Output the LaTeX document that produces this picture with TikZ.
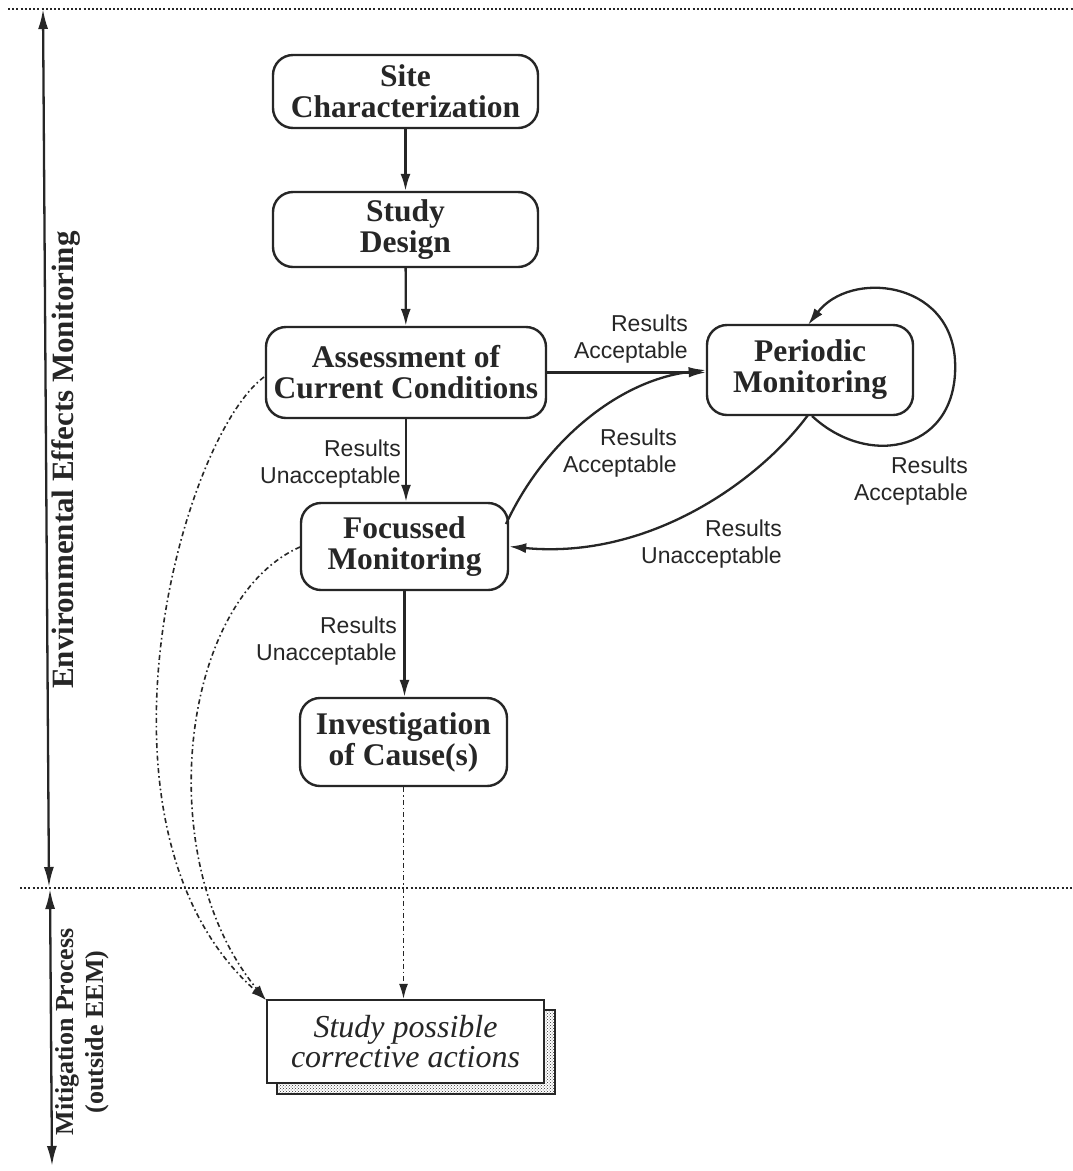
\documentclass[tikz,border=0pt]{standalone}
\usepackage{fontspec}
\setmainfont{Liberation Serif}
\newfontfamily\lblfont{Liberation Sans}
\usetikzlibrary{arrows.meta,patterns}
\begin{document}
\begin{tikzpicture}[x=1pt,y=-1pt,
  box/.style={draw=black!85, line width=2.4pt, rounded corners=20pt, align=center,
    font=\fontsize{31.5}{31}\selectfont\bfseries, inner sep=0pt, text=black!85},
  lbl/.style={font=\lblfont\fontsize{23}{26.5}\selectfont, align=right, inner sep=0pt, anchor=south east, text=black!85},
  arr/.style={draw=black!85, line width=2.3pt, -{Latex[length=17pt,width=10pt]}},
  dd/.style={draw=black!85, line width=1.6pt, dash pattern=on 5pt off 3pt on 1.6pt off 3pt, -{Latex[length=15pt,width=9pt]}},
  dotline/.style={draw=black!85, line width=2pt, dash pattern=on 2pt off 2.2pt},
  scalearr/.style={draw=black!85, line width=2.3pt, {Latex[length=20pt,width=10pt]}-{Latex[length=20pt,width=10pt]}},
]
\fill[white] (0,0) rectangle (1073,1171);
\useasboundingbox (0,0) rectangle (1073,1171);

% dotted separators
\coordinate (d1a) at (8,9);
\coordinate (d1b) at (1073,9);
\coordinate (d2a) at (20,888);
\coordinate (d2b) at (1073,888);
\draw[dotline] (d1a) -- (d1b);
\draw[dotline] (d2a) -- (d2b);

% left scale arrows
\coordinate (s1a) at (43,9);
\coordinate (s1b) at (49,887);
\coordinate (s2a) at (50,889);
\coordinate (s2b) at (52,1166);
\draw[scalearr] (s1a) -- (s1b);
\draw[scalearr] (s2a) -- (s2b);

\node[rotate=90, font=\fontsize{31}{32}\selectfont\bfseries, inner sep=0pt, text=black!85] (eem) at (66,460) {Environmental Effects Monitoring};
\node[rotate=90, font=\fontsize{26}{30}\selectfont\bfseries, align=center, inner sep=0pt, text=black!85] (mit) at (82,1032) {Mitigation Process\\(outside EEM)};

% nodes
\node[box, minimum width=265pt, minimum height=73pt] (site) at (405.5,91.5) {Site\\Characterization};
\node[box, minimum width=265pt, minimum height=75pt] (design) at (405.5,229.5) {Study\\Design};
\node[box, minimum width=280pt, minimum height=91pt] (assess) at (406,372.5) {Assessment of\\Current Conditions};
\node[box, minimum width=206pt, minimum height=90pt] (periodic) at (810,370) {Periodic\\Monitoring};
\node[box, minimum width=207pt, minimum height=87pt] (focus) at (404.5,546.5) {Focussed\\Monitoring};
\node[box, minimum width=207pt, minimum height=88pt] (invest) at (403.5,742) {Investigation\\of Cause(s)};

% shadowed box
\fill[white] (277,1010) rectangle (555,1094);
\draw[line width=1.8pt, draw=black!85, pattern=crosshatch dots, pattern color=black!80] (277,1010) rectangle (555,1094);
\node[draw=black!85, fill=white, line width=2.4pt, minimum width=277pt, minimum height=83pt, inner sep=0pt,
  align=center, font=\fontsize{32}{30}\selectfont\itshape, text=black!85] (study) at (405.5,1041.5) {Study possible\\corrective actions};

% connectors
\draw[arr] (site) -- (design);
\draw[arr] (design) -- (assess);
\draw[arr] (assess.east) -- (assess.east -| periodic.west);
\draw[arr] (assess.south) -- (assess.south |- focus.north);
\draw[arr] (focus.south) -- (focus.south |- invest.north);
\coordinate (fstart) at (506,524);
\draw[arr] (fstart) .. controls (545,440) and (620,380) .. (periodic.west);
\coordinate (pbot) at (808,415);
\draw[arr] (pbot) .. controls (760,480) and (650,560) .. (focus.east);
\coordinate (lstart) at (812,416);
\coordinate (lend) at (808,325);
\draw[arr] (lstart) .. controls (870,470) and (960,450) .. (955,360) .. controls (950,280) and (850,270) .. (lend);

\coordinate (aleft) at (264,377);
\coordinate (fleft) at (300,547);
\coordinate (tip) at (266,1000);
\draw[dd] (aleft) .. controls (180,440) and (75,830) .. (tip);
\draw[dd] (fleft) .. controls (180,600) and (150,860) .. (tip);
\draw[dd] (invest.south) -- (invest.south |- study.north);

% labels
\node[lbl] (l1) at (688,363) {Results\\Acceptable};
\node[lbl] (l2) at (401,488) {Results\\Unacceptable};
\node[lbl] (l3) at (677,477) {Results\\Acceptable};
\node[lbl] (l4) at (782,568) {Results\\Unacceptable};
\node[lbl] (l5) at (968,505) {Results\\Acceptable};
\node[lbl] (l6) at (397,665) {Results\\Unacceptable};
\end{tikzpicture}
\end{document}
